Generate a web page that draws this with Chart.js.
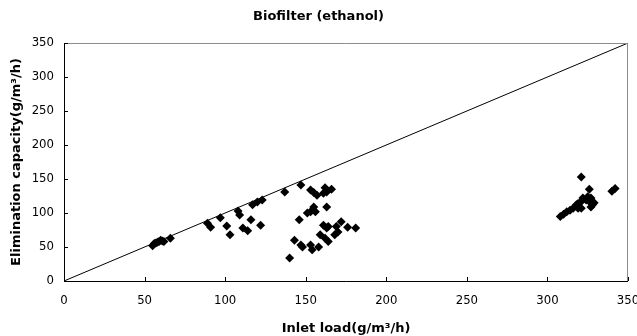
<!DOCTYPE html>
<html>
<head>
<meta charset="utf-8">
<script src="https://cdn.jsdelivr.net/npm/chart.js@4.4.1/dist/chart.umd.min.js"></script>
<style>
  html, body { margin: 0; padding: 0; background: #fff; }
  #wrap { width: 637px; height: 336px; }
</style>
</head>
<body>
<div id="wrap"><canvas id="chart" width="637" height="336"></canvas></div>
<script>
// inlet load (x) and elimination capacity (y)
const inletLoad = [
    55, 56, 57, 58, 59, 60, 61, 62, 66,
    89, 91, 97, 101, 103, 108, 109, 111, 114, 116, 117, 120, 123, 122,
    137, 147, 153, 155, 157, 162, 163, 161, 166, 155, 153, 151, 156, 163, 146,
    161, 163, 164, 169, 170, 172, 176, 181, 159, 162, 164, 168,
    143, 147, 148, 153, 154, 158, 140,
    308, 310, 312, 314, 316, 318, 319, 321, 322, 324, 325, 326, 327, 328, 329, 327, 319, 321, 321, 326, 342, 340
];
const elimCapacity = [
    52, 55, 56, 57, 58, 60, 59, 58, 63,
    85, 79, 93, 81, 68, 103, 97, 78, 74, 90, 112, 116, 119, 82,
    131, 141, 134, 130, 126, 137, 131, 129, 135, 109, 102, 100, 102, 109, 90,
    82, 78, 80, 80, 72, 87, 79, 78, 68, 63, 58, 68,
    60, 53, 50, 53, 46, 50, 34,
    95, 98, 102, 104, 107, 112, 114, 117, 122, 119, 124, 117, 122, 112, 115, 109, 107, 107, 153, 135, 136, 132
];
const diagonal = [0, 350];
const axisMin = 0;
const axisMax = 350;
const tickStep = 50;

const points = inletLoad.map((x, i) => ({ x: x, y: elimCapacity[i] }));
const linePoints = diagonal.map(v => ({ x: v, y: v }));

const tickFont = "'Liberation Sans Narrow', 'DejaVu Sans Condensed', Arial, sans-serif";
const titleFont = "'DejaVu Sans', Verdana, sans-serif";

// frame + inside tick marks, like the original spreadsheet chart
const framePlugin = {
    id: 'frame',
    afterDraw(chart) {
        const { ctx, chartArea: a, scales } = chart;
        ctx.save();
        ctx.lineWidth = 1;
        ctx.strokeStyle = '#8c8c8c';
        ctx.beginPath();
        ctx.moveTo(a.left, a.top + 0.5);
        ctx.lineTo(a.right - 0.5, a.top + 0.5);
        ctx.lineTo(a.right - 0.5, a.bottom);
        ctx.stroke();

        ctx.strokeStyle = '#000';
        ctx.beginPath();
        ctx.moveTo(a.left + 0.5, a.top);
        ctx.lineTo(a.left + 0.5, a.bottom + 0.5);
        ctx.lineTo(a.right, a.bottom + 0.5);
        ctx.stroke();

        ctx.beginPath();
        for (let v = axisMin; v <= axisMax; v += tickStep) {
            const px = Math.round(scales.x.getPixelForValue(v)) + 0.5;
            ctx.moveTo(px, a.bottom);
            ctx.lineTo(px, a.bottom - 4);
            const py = Math.round(scales.y.getPixelForValue(v)) + 0.5;
            ctx.moveTo(a.left, py);
            ctx.lineTo(a.left + 4, py);
        }
        ctx.stroke();
        ctx.restore();
    }
};

new Chart(document.getElementById('chart'), {
    type: 'scatter',
    data: {
        datasets: [
            {
                label: 'EC',
                data: points,
                pointStyle: 'rectRot',
                pointRadius: 4.5,
                pointBackgroundColor: '#000',
                pointBorderColor: '#000',
                pointBorderWidth: 0
            },
            {
                type: 'line',
                label: '100%',
                data: linePoints,
                borderColor: '#000',
                borderWidth: 1,
                pointRadius: 0,
                fill: false
            }
        ]
    },
    options: {
        responsive: false,
        animation: false,
        layout: { padding: 0 },
        plugins: {
            legend: { display: false },
            tooltip: { enabled: false },
            title: {
                display: true,
                text: 'Biofilter (ethanol)',
                color: '#000',
                font: { family: titleFont, size: 13, weight: 'bold' },
                padding: { top: 9, bottom: 18.4 }
            }
        },
        scales: {
            x: {
                type: 'linear',
                min: axisMin,
                max: axisMax,
                ticks: {
                    stepSize: tickStep,
                    color: '#000',
                    padding: 12,
                    maxRotation: 0,
                    font: { family: tickFont, size: 13 }
                },
                grid: { display: false, drawTicks: false },
                border: { display: false },
                title: {
                    display: true,
                    text: 'Inlet load(g/m³/h)',
                    color: '#000',
                    font: { family: titleFont, size: 13, weight: 'bold' },
                    padding: { top: 8, bottom: 0 }
                },
                afterFit(scale) {
                    scale.height = 55;
                    scale.paddingLeft = 0;
                    scale.paddingRight = 9;
                }
            },
            y: {
                type: 'linear',
                min: axisMin,
                max: axisMax,
                ticks: {
                    stepSize: tickStep,
                    color: '#000',
                    padding: 10,
                    font: { family: tickFont, size: 13 }
                },
                grid: { display: false, drawTicks: false },
                border: { display: false },
                title: {
                    display: true,
                    text: 'Elimination capacity(g/m³/h)',
                    color: '#000',
                    font: { family: titleFont, size: 13, weight: 'bold' },
                    padding: { top: 9, bottom: 0 }
                },
                afterFit(scale) {
                    scale.width = 64;
                    scale.paddingTop = 0;
                    scale.paddingBottom = 0;
                }
            }
        }
    },
    plugins: [framePlugin]
});
</script>
</body>
</html>
